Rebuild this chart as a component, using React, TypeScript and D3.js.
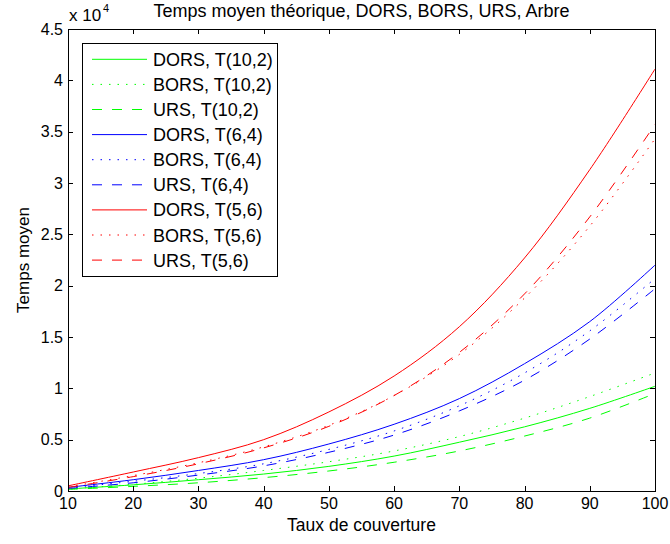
import React from "react";
import * as d3 from "d3";

// Coverage rate (x axis)
const coverage = [10, 20, 30, 40, 50, 60, 70, 80, 90, 100];

// Mean time per strategy and tree shape
const dorsT10_2 = [200, 600, 1100, 1650, 2400, 3400, 4750, 6250, 8050, 10200];
const borsT10_2 = [200, 650, 1250, 2000, 2850, 3900, 5300, 7100, 9200, 11500];
const ursT10_2 = [150, 450, 800, 1300, 1950, 2800, 3900, 5350, 7100, 9500];
const dorsT6_4 = [350, 1100, 2000, 3050, 4580, 6500, 9000, 12400, 16500, 22000];
const borsT6_4 = [300, 950, 1700, 2650, 4050, 5850, 8300, 11500, 15600, 20700];
const ursT6_4 = [250, 800, 1550, 2450, 3770, 5450, 7800, 10800, 14800, 19700];
const dorsT5_6 = [500, 1850, 3250, 5000, 7700, 11200, 16000, 22700, 31300, 41100];
const borsT5_6 = [400, 1500, 2750, 4300, 6400, 9300, 13300, 18800, 25800, 34300];
const ursT5_6 = [350, 1400, 2650, 4200, 6300, 9300, 13500, 19200, 26700, 35700];

const xTicks = [10, 20, 30, 40, 50, 60, 70, 80, 90, 100];
const yTicks = [0, 0.5, 1, 1.5, 2, 2.5, 3, 3.5, 4, 4.5];

const DOTTED = "1.5,7";
const DASHED = "10,10";

const series = [
  { label: "DORS, T(10,2)", values: dorsT10_2, color: "#00ff00", dash: null },
  { label: "BORS, T(10,2)", values: borsT10_2, color: "#00ff00", dash: DOTTED },
  { label: "URS, T(10,2)", values: ursT10_2, color: "#00ff00", dash: DASHED },
  { label: "DORS, T(6,4)", values: dorsT6_4, color: "#0000ff", dash: null },
  { label: "BORS, T(6,4)", values: borsT6_4, color: "#0000ff", dash: DOTTED },
  { label: "URS, T(6,4)", values: ursT6_4, color: "#0000ff", dash: DASHED },
  { label: "DORS, T(5,6)", values: dorsT5_6, color: "#ff0000", dash: null },
  { label: "BORS, T(5,6)", values: borsT5_6, color: "#ff0000", dash: DOTTED },
  { label: "URS, T(5,6)", values: ursT5_6, color: "#ff0000", dash: DASHED },
];

const W = 670;
const H = 544;
const M = { left: 68, right: 655, top: 29, bottom: 491 };
const FONT = "'Liberation Sans', Arial, Helvetica, sans-serif";

export default function App() {
  const x = d3.scaleLinear().domain([10, 100]).range([M.left, M.right]);
  const y = d3.scaleLinear().domain([0, 45000]).range([M.bottom, M.top]);

  const line = (vals: number[]) =>
    d3
      .line<number>()
      .x((_, i) => x(coverage[i]))
      .y((d) => y(d))
      .curve(d3.curveCatmullRom.alpha(0.5))(vals) || "";

  const tickLen = 5;
  const legend = { x: 82, y: 43, w: 195, h: 233, row0: 59.3, step: 25.1 };

  return (
    <svg
      width={W}
      height={H}
      style={{ position: "absolute", left: 0, top: 0, background: "#fff" }}
      fontFamily={FONT}
    >
      <rect x={0} y={0} width={W} height={H} fill="#fff" />
      <defs>
        <clipPath id="plotArea">
          <rect x={M.left} y={M.top} width={M.right - M.left} height={M.bottom - M.top} />
        </clipPath>
      </defs>

      {/* curves */}
      <g clipPath="url(#plotArea)">
        {series.map((s) => (
          <path
            key={s.label}
            d={line(s.values)}
            fill="none"
            stroke={s.color}
            strokeWidth={1}
            strokeDasharray={s.dash || undefined}
          />
        ))}
      </g>

      {/* axes box */}
      <rect
        x={M.left + 0.5}
        y={M.top + 0.5}
        width={M.right - M.left}
        height={M.bottom - M.top}
        fill="none"
        stroke="#000"
        strokeWidth={1}
      />

      {/* x ticks */}
      {xTicks.map((t) => {
        const px = Math.round(x(t)) + 0.5;
        return (
          <g key={"x" + t}>
            <line x1={px} x2={px} y1={M.bottom} y2={M.bottom - tickLen} stroke="#000" />
            <line x1={px} x2={px} y1={M.top} y2={M.top + tickLen} stroke="#000" />
            <text x={x(t)} y={509} fontSize={16} textAnchor="middle">
              {t}
            </text>
          </g>
        );
      })}

      {/* y ticks */}
      {yTicks.map((t) => {
        const py = Math.round(y(t * 10000)) + 0.5;
        return (
          <g key={"y" + t}>
            <line x1={M.left} x2={M.left + tickLen} y1={py} y2={py} stroke="#000" />
            <line x1={M.right} x2={M.right - tickLen} y1={py} y2={py} stroke="#000" />
            <text x={63} y={y(t * 10000) + 5.5} fontSize={16} textAnchor="end">
              {t}
            </text>
          </g>
        );
      })}

      {/* exponent */}
      <text x={69} y={21} fontSize={17}>
        x 10
      </text>
      <text x={103} y={12} fontSize={11}>
        4
      </text>

      {/* title and labels */}
      <text x={(M.left + M.right) / 2} y={17} fontSize={18} textAnchor="middle">
        Temps moyen théorique, DORS, BORS, URS, Arbre
      </text>
      <text x={(M.left + M.right) / 2} y={531} fontSize={17.5} textAnchor="middle">
        Taux de couverture
      </text>
      <text
        transform={`translate(29, ${(M.top + M.bottom) / 2}) rotate(-90)`}
        fontSize={17}
        textAnchor="middle"
      >
        Temps moyen
      </text>

      {/* legend */}
      <rect
        x={legend.x + 0.5}
        y={legend.y + 0.5}
        width={legend.w}
        height={legend.h}
        fill="#fff"
        stroke="#000"
      />
      {series.map((s, i) => {
        const cy = legend.row0 + i * legend.step;
        return (
          <g key={"lg" + s.label}>
            <line
              x1={92}
              x2={147}
              y1={cy}
              y2={cy}
              stroke={s.color}
              strokeWidth={1}
              strokeDasharray={s.dash || undefined}
            />
            <text x={153} y={cy + 6.5} fontSize={18}>
              {s.label}
            </text>
          </g>
        );
      })}
    </svg>
  );
}
